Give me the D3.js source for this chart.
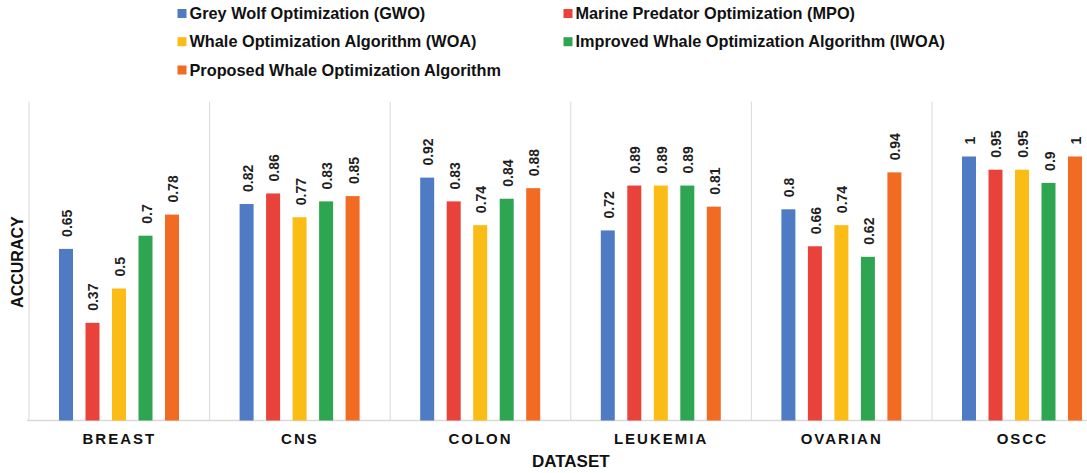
<!DOCTYPE html>
<html>
<head>
<meta charset="utf-8">
<script src="https://cdn.jsdelivr.net/npm/d3@7/dist/d3.min.js"></script>
<style>
  html, body { margin: 0; padding: 0; background: #fff; }
  svg { display: block; font-family: "Liberation Sans", Arial, sans-serif; }
</style>
</head>
<body>
<svg id="chart" width="1087" height="473"></svg>
<script>
// Datasets on the x axis
const datasets = ["BREAST", "CNS", "COLON", "LEUKEMIA", "OVARIAN", "OSCC"];

// Algorithms (legend order)
const algorithms = [
  "Grey Wolf Optimization (GWO)",
  "Marine Predator Optimization (MPO)",
  "Whale Optimization Algorithm (WOA)",
  "Improved Whale Optimization Algorithm (IWOA)",
  "Proposed Whale Optimization Algorithm"
];

// Accuracy per dataset, one array per algorithm
const gwo      = [0.65, 0.82, 0.92, 0.72, 0.80, 1.00];
const mpo      = [0.37, 0.86, 0.83, 0.89, 0.66, 0.95];
const woa      = [0.50, 0.77, 0.74, 0.89, 0.74, 0.95];
const iwoa     = [0.70, 0.83, 0.84, 0.89, 0.62, 0.90];
const proposed = [0.78, 0.85, 0.88, 0.81, 0.94, 1.00];

const colors = ["#4e7bc3", "#e8423a", "#fbbc16", "#2ea651", "#f26b22"];

const seriesValues = [gwo, mpo, woa, iwoa, proposed];

const rows = [];
datasets.forEach((d, i) => {
  algorithms.forEach((a, j) => {
    rows.push({ dataset: d, algo: a, value: seriesValues[j][i], idx: j });
  });
});

const svg = d3.select("#chart");

const plot = { left: 29, right: 1112.6, top: 103.7, bottom: 420.5 };

const x0 = d3.scaleBand().domain(datasets).range([plot.left, plot.right]).padding(0);
const x1 = d3.scaleBand().domain(algorithms).range([30, 150]).paddingInner(0.472).paddingOuter(0);
const y = d3.scaleLinear().domain([0, 1.2]).range([plot.bottom, plot.top]);
const color = d3.scaleOrdinal().domain(algorithms).range(colors);

// Category separators
const seps = datasets.map(d => x0(d)).concat([plot.right]);
svg.append("g").selectAll("line").data(seps).join("line")
  .attr("x1", d => d).attr("x2", d => d)
  .attr("y1", plot.top - 2).attr("y2", plot.bottom)
  .attr("stroke", "#d9d9d9").attr("stroke-width", 1);

// Baseline
svg.append("line")
  .attr("x1", plot.left - 2).attr("x2", plot.right)
  .attr("y1", plot.bottom).attr("y2", plot.bottom)
  .attr("stroke", "#d9d9d9").attr("stroke-width", 1.5);

// Bars
const groups = svg.append("g").selectAll("g").data(datasets).join("g")
  .attr("transform", d => `translate(${x0(d)},0)`);

groups.selectAll("rect")
  .data(d => rows.filter(r => r.dataset === d))
  .join("rect")
  .attr("x", r => x1(r.algo))
  .attr("width", x1.bandwidth())
  .attr("y", r => y(r.value))
  .attr("height", r => y(0) - y(r.value))
  .attr("fill", r => color(r.algo));

// Value labels, rotated
groups.selectAll("text.val")
  .data(d => rows.filter(r => r.dataset === d))
  .join("text")
  .attr("class", "val")
  .attr("transform", r => `translate(${x1(r.algo) + x1.bandwidth() / 2 + 1},${y(r.value) - 12}) rotate(-90)`)
  .attr("dominant-baseline", "central")
  .attr("text-anchor", "start")
  .attr("font-size", 14)
  .attr("font-weight", "bold")
  .attr("fill", "#1f1f1f")
  .text(r => String(r.value));

// Category labels
const xAxis = d3.axisBottom(x0).tickSize(0).tickPadding(0);
const gx = svg.append("g").attr("transform", `translate(0,${plot.bottom})`).call(xAxis);
gx.select(".domain").remove();
gx.selectAll("text")
  .attr("y", 18)
  .attr("dy", "0.35em")
  .attr("font-size", 15)
  .attr("font-weight", "bold")
  .attr("font-family", "Liberation Sans, Arial, sans-serif")
  .attr("letter-spacing", "2px")
  .attr("fill", "#111");

// Axis titles
svg.append("text")
  .attr("x", (plot.left + plot.right) / 2)
  .attr("y", 461)
  .attr("dy", "0.35em")
  .attr("text-anchor", "middle")
  .attr("font-size", 17)
  .attr("font-weight", "bold")
  .attr("fill", "#111")
  .text("DATASET");

svg.append("text")
  .attr("transform", `translate(17.5,${(plot.top + plot.bottom) / 2}) rotate(-90)`)
  .attr("dy", "0.35em")
  .attr("text-anchor", "middle")
  .attr("font-size", 16)
  .attr("font-weight", "bold")
  .attr("fill", "#111")
  .text("ACCURACY");

// Legend: two columns, three rows
const legendCols = [177.5, 563.5];
const legendRows = [13.5, 41.7, 70];
const legend = svg.append("g").selectAll("g").data(algorithms).join("g")
  .attr("transform", (d, i) => `translate(${legendCols[i % 2]},${legendRows[Math.floor(i / 2)]})`);

legend.append("rect")
  .attr("x", 0).attr("y", -4.5)
  .attr("width", 9).attr("height", 9)
  .attr("fill", d => color(d));

legend.append("text")
  .attr("x", 12)
  .attr("dy", "0.35em")
  .attr("font-size", 16.3)
  .attr("font-weight", "bold")
  .attr("fill", "#111")
  .text(d => d);
</script>
</body>
</html>
